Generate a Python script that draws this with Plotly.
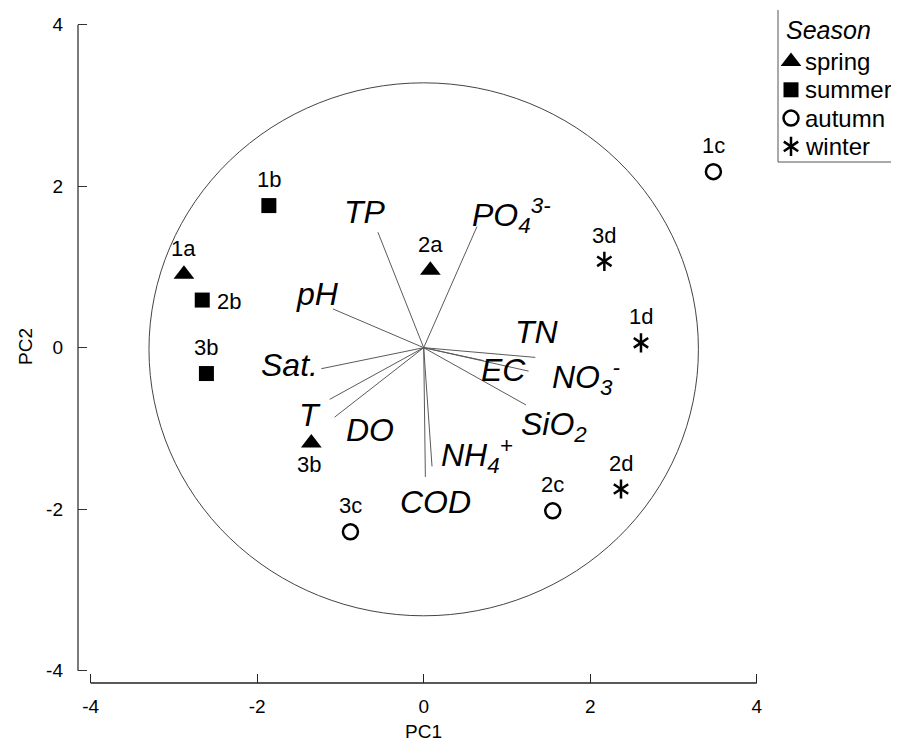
import plotly.graph_objects as go

# ---------------- data ----------------
# sample scores (PC1, PC2)
sample_labels = ["1a", "2a", "3b", "1b", "2b", "3b", "1c", "2c", "3c", "1d", "2d", "3d"]
sample_season = ["spring", "spring", "spring", "summer", "summer", "summer",
                 "autumn", "autumn", "autumn", "winter", "winter", "winter"]
sample_pc1 = [-2.88, 0.08, -1.35, -1.86, -2.66, -2.61, 3.48, 1.55, -0.88, 2.61, 2.37, 2.17]
sample_pc2 = [0.91, 0.96, -1.18, 1.76, 0.59, -0.32, 2.18, -2.02, -2.28, 0.06, -1.75, 1.07]

# variable loadings (scaled) and label positions
var_names = ["TP", "PO<sub>4</sub><sup>3-</sup>", "pH", "TN", "NO<sub>3</sub><sup>-</sup>", "EC",
             "SiO<sub>2</sub>", "Sat.", "T", "DO", "COD", "NH<sub>4</sub><sup>+</sup>"]
load_pc1 = [-0.55, 0.64, -1.09, 1.34, 1.26, 0.72, 1.23, -1.23, -1.13, -1.07, 0.02, 0.10]
load_pc2 = [1.43, 1.50, 0.48, -0.12, -0.29, -0.16, -0.71, -0.26, -0.64, -0.86, -1.60, -1.47]
label_pc1 = [-0.70, 0.56, -1.27, 1.36, 1.52, 0.96, 1.56, -1.61, -1.37, -0.65, 0.14, 0.18]
label_pc2 = [1.68, 1.64, 0.67, 0.20, -0.37, -0.28, -0.98, -0.21, -0.83, -1.02, -1.91, -1.33]
label_anchor = ["center", "left", "center", "center", "left", "center",
                "center", "center", "center", "center", "center", "left"]

circle_radius = 3.3
circle_center_pc2 = -0.02

seasons = ["spring", "summer", "autumn", "winter"]
axis_ticks = [-4, -2, 0, 2, 4]
axis_tick_text = ["-4", "-2", "0", "2", "4"]

# ---------------- styles ----------------
FONT = "Liberation Sans, Arial, sans-serif"
season_style = {
    "spring": [dict(symbol="triangle-up", size=18, color="black")],
    "summer": [dict(symbol="square", size=15, color="black")],
    "autumn": [dict(symbol="circle-open", size=15, color="black", line=dict(width=2.5, color="black"))],
    "winter": [dict(symbol="y-up-open", size=12, color="black", line=dict(width=2.5, color="black")),
               dict(symbol="y-down-open", size=12, color="black", line=dict(width=2.5, color="black"))],
}

fig = go.Figure()

# loading vectors
vx, vy = [], []
for a, b in zip(load_pc1, load_pc2):
    vx += [0, a, None]
    vy += [0, b, None]
fig.add_trace(go.Scatter(x=vx, y=vy, mode="lines", line=dict(color="#5a5a5a", width=1),
                         hoverinfo="skip", showlegend=False))

# sample points
for s in seasons:
    xs = [x for x, ss in zip(sample_pc1, sample_season) if ss == s]
    ys = [y for y, ss in zip(sample_pc2, sample_season) if ss == s]
    for m in season_style[s]:
        fig.add_trace(go.Scatter(x=xs, y=ys, mode="markers", marker=m, name=s, showlegend=False))

annotations = []
# sample labels
for lab, x, y, s in zip(sample_labels, sample_pc1, sample_pc2, sample_season):
    xs, ys = 0, 26
    if lab == "2b":
        xs, ys = 27, -1
    elif lab == "3b" and s == "spring":
        xs, ys = -2, -22
    annotations.append(dict(x=x, y=y, xref="x", yref="y", text=lab, showarrow=False,
                            xshift=xs, yshift=ys, font=dict(family=FONT, size=22, color="black")))
# variable labels
for name, x, y, anc in zip(var_names, label_pc1, label_pc2, label_anchor):
    annotations.append(dict(x=x, y=y, xref="x", yref="y", text="<i>" + name + "</i>", showarrow=False,
                            xanchor=anc, yanchor="middle",
                            font=dict(family=FONT, size=32, color="black")))

# page geometry (the page body adds an 8px offset)
PAGE_OFF = 8
W, H = 899 - PAGE_OFF, 745 - PAGE_OFF
L, R, T, B = 78 - PAGE_OFF, 0, 10 - PAGE_OFF, 62
SCR_LEFT, SCR_TOP = L + PAGE_OFF, T + PAGE_OFF
SCR_RIGHT, SCR_BOTTOM = PAGE_OFF + W - R, PAGE_OFF + H - B

# x-axis title placed below the detached axis
annotations.append(dict(x=0, y=0, xref="x", yref="paper", text="PC1", showarrow=False,
                        yanchor="bottom", yshift=-61, font=dict(family=FONT, size=19, color="black")))

# legend (drawn on a helper axis in screen pixels)
leg_x_marker, leg_x_text, leg_y0, leg_dy = 791, 803, 61.5, 28.3
for i, s in enumerate(seasons):
    for m in season_style[s]:
        fig.add_trace(go.Scatter(x=[leg_x_marker], y=[leg_y0 + i * leg_dy], mode="markers", marker=m,
                                 xaxis="x2", yaxis="y2", showlegend=False, hoverinfo="skip"))
    annotations.append(dict(x=leg_x_text, y=leg_y0 + i * leg_dy, xref="x2", yref="y2", text=s,
                            showarrow=False, xanchor="left", yanchor="middle",
                            font=dict(family=FONT, size=24, color="black")))
annotations.append(dict(x=784, y=30, xref="x2", yref="y2", text="<i>Season</i>", showarrow=False,
                        xanchor="left", yanchor="middle", font=dict(family=FONT, size=25, color="black")))

shapes = [
    dict(type="circle", xref="x", yref="y", x0=-circle_radius, x1=circle_radius,
         y0=circle_center_pc2 - circle_radius, y1=circle_center_pc2 + circle_radius,
         line=dict(color="#444444", width=1), layer="below"),
    # detached axis lines
    dict(type="line", xref="paper", yref="y", x0=0, x1=0, y0=-4, y1=4, line=dict(color="#333333", width=1.3)),
    dict(type="line", xref="x", yref="paper", x0=-4, x1=4, y0=0, y1=0, line=dict(color="#222222", width=1.3)),
    # legend box (top and right edges off-canvas)
    dict(type="rect", xref="x2", yref="y2", x0=778, x1=930, y0=162, y1=-20,
         line=dict(color="#555555", width=1)),
]

px_per_x, px_per_y = 83.25, 80.75
x0 = -4 - (90.7 - SCR_LEFT) / px_per_x
x1 = x0 + (SCR_RIGHT - SCR_LEFT) / px_per_x
y0 = -4 - (SCR_BOTTOM - 670.7) / px_per_y
y1 = y0 + (SCR_BOTTOM - SCR_TOP) / px_per_y

fig.update_layout(
    width=W, height=H, margin=dict(l=L, r=R, t=T, b=B, pad=0, autoexpand=False),
    paper_bgcolor="white", plot_bgcolor="white",
    font=dict(family=FONT, size=19, color="black"),
    showlegend=False,
    xaxis=dict(range=[x0, x1], tickvals=axis_ticks, ticktext=axis_tick_text, ticks="inside",
               ticklen=9, tickwidth=1, tickcolor="#222222", showgrid=False, zeroline=False,
               showline=False, tickfont=dict(size=19, color="black"), ticklabelstandoff=10,
               automargin=False),
    yaxis=dict(range=[y0, y1], tickvals=axis_ticks, ticktext=axis_tick_text, ticks="inside",
               ticklen=9, tickwidth=1, tickcolor="#333333", showgrid=False, zeroline=False,
               showline=False, tickfont=dict(size=19, color="black"), ticklabelstandoff=14,
               automargin=False,
               title=dict(text="PC2", font=dict(size=19), standoff=8)),
    xaxis2=dict(range=[SCR_LEFT, SCR_RIGHT], domain=[0, 1], overlaying="x", visible=False, anchor="y2"),
    yaxis2=dict(range=[SCR_BOTTOM, SCR_TOP], domain=[0, 1], overlaying="y", visible=False, anchor="x2"),
    annotations=annotations,
    shapes=shapes,
)

fig.write_html("out.html")
